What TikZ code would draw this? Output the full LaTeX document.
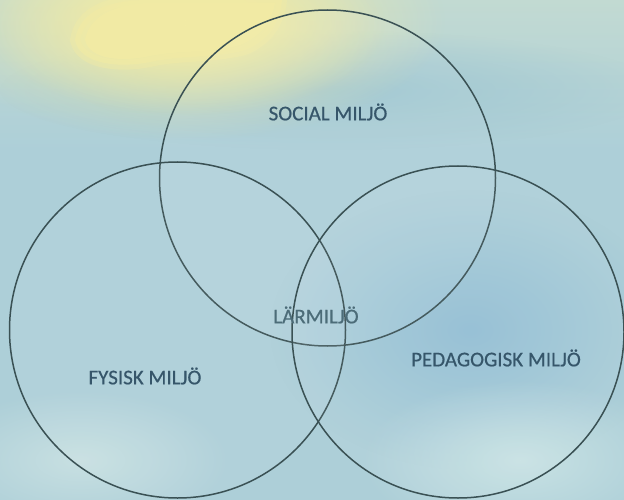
\documentclass[tikz,border=0pt]{standalone}
\usepackage{fontspec}
\usetikzlibrary{fadings}
\setmainfont{Carlito}
\newfontfamily\lblfont[FakeBold=0.6]{Carlito}
\tikzfading[name=softblob, inner color=transparent!0, outer color=transparent!100]
\begin{document}
\begin{tikzpicture}[x=1pt,y=-1pt,
  ring/.style={draw=ringcol,line width=1.5pt,fill=white,fill opacity=0.06},
  lbl/.style={text=txtcol,font=\lblfont\fontsize{21}{24}\selectfont,inner sep=0pt},
  blob/.style={draw=none,path fading=softblob}]
\definecolor{bgcol}{HTML}{ADCFD8}
\definecolor{topcol}{HTML}{C2DAD2}
\definecolor{yel}{HTML}{F2EBA4}
\definecolor{ringcol}{HTML}{3A5154}
\definecolor{txtcol}{HTML}{36566A}
\definecolor{midcol}{HTML}{4C6C78}
\useasboundingbox (0,0) rectangle (624,500);
% background
\fill[bgcol] (0,0) rectangle (624,500);
\shade[top color=topcol,bottom color=bgcol] (0,0) rectangle (624,150);
\fill[blob,fill={rgb,255:red,158;green,198;blue,210}] (330,90) ellipse (330 and 60);
\fill[blob,fill={rgb,255:red,146;green,190;blue,212}] (470,330) ellipse (200 and 140);
\fill[blob,fill={rgb,255:red,200;green,226;blue,228}] (520,460) ellipse (160 and 80);
\fill[blob,fill={rgb,255:red,200;green,224;blue,226}] (80,460) ellipse (150 and 70);
% yellow wash
\fill[blob,fill=yel] (185,20) ellipse (260 and 120);
\fill[blob,fill=yel] (185,25) ellipse (200 and 90);
\fill[yel,opacity=0.6,draw=yel,draw opacity=0.4,line width=10pt,line join=round]
  (75,40) .. controls (80,10) and (110,0) .. (150,0)
  -- (282,0) .. controls (280,20) and (270,40) .. (245,50)
  .. controls (215,58) and (180,55) .. (150,62)
  .. controls (120,68) and (80,65) .. (75,40) -- cycle;
\fill[yel,opacity=0.85]
  (85,40) .. controls (90,15) and (115,5) .. (150,3)
  -- (275,3) .. controls (272,20) and (262,36) .. (240,45)
  .. controls (212,53) and (178,50) .. (150,56)
  .. controls (122,62) and (90,60) .. (85,40) -- cycle;
% circles
\node[ring,circle,minimum size=336pt,inner sep=0pt] (soc) at (327.5,178) {};
\node[ring,circle,minimum size=336pt,inner sep=0pt] (fys) at (177.5,330) {};
\node[ring,circle,minimum size=332pt,inner sep=0pt] (ped) at (458,332) {};
% labels
\node[lbl] (tsoc) at (328,112) {SOCIAL MILJÖ};
\node[lbl] (tfys) at (145,376) {FYSISK MILJÖ};
\node[lbl] (tped) at (496,358) {PEDAGOGISK MILJÖ};
\node[lbl,text=midcol] (tlar) at (316,315) {LÄRMILJÖ};
\end{tikzpicture}
\end{document}
